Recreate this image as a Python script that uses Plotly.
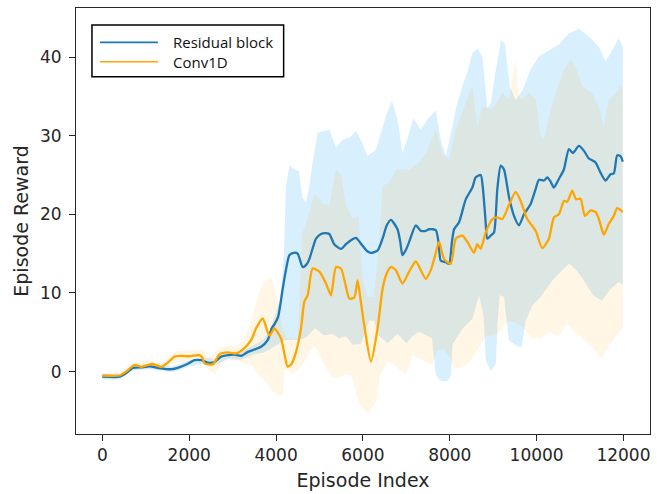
import plotly.graph_objects as go

# ---------------- data ----------------
res_x = [0, 400, 550, 700, 900, 1100, 1300, 1600, 1800, 1970, 2120, 2280, 2420, 2580, 2735, 2900,
         3040, 3195, 3350, 3500, 3655, 3807, 3900, 3962, 4050, 4152, 4230, 4306, 4400, 4497, 4612,
         4700, 4766, 4850, 4920, 5035, 5130, 5226, 5340, 5495, 5610, 5725, 5840, 5992, 6100, 6185,
         6338, 6452, 6550, 6644, 6797, 6860, 6911, 7000, 7065, 7218, 7333, 7448, 7525, 7678, 7740,
         7793, 7908, 7985, 8050, 8100, 8214, 8368, 8520, 8598, 8713, 8760, 8820, 8865, 8943, 9019,
         9095, 9173, 9249, 9364, 9479, 9594, 9709, 9862, 9977, 10053, 10168, 10245, 10320, 10398,
         10513, 10628, 10743, 10835, 10973, 11088, 11203, 11357, 11472, 11587, 11702, 11778, 11855,
         11932, 11985]
res_y = [-0.65, -0.65, -0.2, 0.45, 0.55, 0.65, 0.45, 0.3, 0.6, 1.0, 1.45, 1.45, 1.15, 1.2, 1.9, 2.1,
         2.15, 2.0, 2.5, 2.8, 3.15, 4.0, 5.5, 6.0, 7.0, 10.5, 13.0, 14.8, 15.1, 15.0, 13.3,
         13.6, 14.3, 15.8, 16.9, 17.5, 17.6, 17.5, 16.2, 15.6, 16.2, 16.7, 17.0, 16.0, 15.3, 15.1,
         15.4, 16.9, 18.6, 19.3, 18.1, 16.5, 14.8, 15.6, 16.5, 18.6, 17.9, 17.9, 18.1, 18.0, 16.5,
         14.1, 13.9, 13.7, 16.5, 18.1, 19.0, 21.9, 23.4, 24.7, 25.0, 23.5, 19.5, 16.9, 17.3, 17.7,
         23.2, 26.2, 25.7, 22.2, 19.8, 18.6, 20.0, 21.3, 23.2, 24.4, 24.3, 24.7, 24.2, 23.4,
         24.5, 25.7, 28.3, 27.8, 28.7, 28.1, 27.1, 26.6, 25.3, 24.3, 25.1, 25.2, 27.5,
         27.4, 26.7]

conv_x = [0, 400, 550, 743, 897, 1020, 1164, 1356, 1500, 1662, 1816, 2007, 2237, 2300, 2352, 2543,
          2697, 2888, 3081, 3233, 3426, 3540, 3692, 3846, 3961, 4115, 4200, 4267, 4360, 4460, 4575,
          4651, 4727, 4842, 4996, 5150, 5265, 5380, 5495, 5600, 5686, 5800, 5877, 5950, 6030, 6185,
          6338, 6452, 6550, 6644, 6759, 6911, 7065, 7218, 7448, 7563, 7640, 7754, 7869, 8023, 8138,
          8290, 8405, 8559, 8635, 8713, 8828, 8980, 9095, 9210, 9364, 9518, 9633, 9785, 9977, 10130,
          10283, 10398, 10513, 10628, 10705, 10820, 10912, 11012, 11111, 11242, 11357, 11434, 11548,
          11663, 11778, 11855, 11985]
conv_y = [-0.5, -0.5, 0.0, 0.84, 0.6, 0.8, 0.96, 0.6, 1.1, 1.9, 2.0, 1.95, 2.1, 1.8, 1.05, 0.92,
          2.19, 2.44, 2.3, 2.8, 4.0, 5.5, 6.75, 4.56, 5.48, 4.2, 2.0, 0.63, 1.0, 2.5, 5.5,
          8.9, 9.7, 13.1, 12.7, 11.2, 9.7, 13.3, 13.1, 11.0, 9.3, 9.4, 11.6, 9.0, 5.9, 1.27,
          5.5, 10.5, 12.5, 13.3, 12.9, 11.2, 12.7, 14.0, 11.8, 12.9, 14.3, 16.5, 14.3, 13.7, 16.9,
          17.3, 16.5, 15.1, 16.2, 15.6, 17.7, 19.4, 19.6, 19.4, 21.2, 22.85, 21.7, 19.4, 17.9, 15.7,
          16.9, 19.6, 20.0, 21.7, 21.6, 23.0, 21.9, 22.0, 19.8, 20.5, 20.3, 19.4, 17.4,
          18.8, 19.8, 20.8, 20.3]

# Residual block band (upper / lower edges)
res_hi_x = [0, 400, 700, 1100, 1600, 2000, 2300, 2600, 2900, 3200, 3500, 3700, 3850, 4000, 4100,
            4180, 4230, 4306, 4420, 4520, 4612, 4690, 4780, 4842, 4958, 5100, 5226, 5380, 5540,
            5700, 5846, 5990, 6100, 6300, 6530, 6667, 6797, 6911, 7020, 7160, 7333, 7486, 7678,
            7793, 7908, 8060, 8150, 8290, 8400, 8520, 8635, 8750, 8865, 8950, 9050, 9180, 9270,
            9380, 9518, 9670, 9862, 10053, 10250, 10513, 10743, 10973, 11203, 11433, 11587, 11740,
            11893, 11985]
res_hi_y = [-0.3, -0.3, 0.8, 0.95, 0.65, 1.4, 1.8, 1.6, 2.5, 2.5, 3.4, 4.0, 5.2, 7.5, 9.5,
            15.0, 23.6, 26.2, 25.7, 25.5, 22.0, 21.5, 24.0, 26.6, 30.4, 30.6, 30.8, 28.5, 29.5,
            29.8, 30.6, 29.0, 27.4, 28.2, 32.5, 34.4, 32.1, 27.8, 29.5, 32.2, 30.8, 32.1, 33.2,
            29.5, 27.4, 31.2, 33.7, 36.3, 38.0, 40.5, 41.1, 40.1, 33.5, 34.2, 38.0, 42.2, 41.7,
            36.3, 34.5, 35.7, 38.4, 40.1, 40.7, 41.6, 43.0, 43.6, 42.6, 41.3, 39.4, 40.9,
            42.4, 41.3]
res_lo_x = [0, 400, 700, 1100, 1600, 2000, 2300, 2600, 2900, 3200, 3500, 3700, 3850, 4000, 4200,
            4540, 4700, 4900, 5100, 5300, 5450, 5610, 5760, 5950, 6050, 6150, 6250, 6380, 6570,
            6800, 7000, 7140, 7300, 7590, 7680, 7800, 7950, 8030, 8060, 8300, 8520, 8674, 8780,
            8830, 8943, 9060, 9100, 9150, 9250, 9360, 9500, 9650, 9750, 9900, 10100, 10350, 10550,
            10750, 10900, 11100, 11300, 11500, 11700, 11900, 11985]
res_lo_y = [-1.0, -1.0, 0.1, 0.3, -0.1, 0.6, 1.0, 0.8, 1.6, 1.5, 2.2, 2.4, 2.8, 3.3, 4.0,
            4.0, 4.4, 5.5, 4.6, 4.8, 4.2, 4.5, 3.4, 3.5, 5.0, 6.5, 6.5, 4.5, 3.6,
            4.8, 3.6, 4.5, 5.1, 4.2, -0.5, -1.2, -1.2, -0.5, 3.4, 5.5, 6.7, 9.7, 7.0,
            1.5, 0.0, 1.0, 6.0, 9.7, 9.5, 4.0, 3.4, 3.0, 6.5, 8.4, 9.5, 11.5, 12.7,
            13.7, 13.0, 11.5, 9.7, 9.0, 10.5, 11.4, 11.0]

# Conv1D band (upper / lower edges)
conv_hi_x = [0, 400, 700, 1100, 1356, 1700, 2000, 2300, 2450, 2700, 2900, 3100, 3250, 3400, 3550,
             3700, 3900, 4050, 4150, 4250, 4500, 4550, 4600, 4700, 4800, 4900, 5065, 5226, 5380,
             5495, 5610, 5763, 5900, 5990, 6100, 6250, 6350, 6450, 6600, 6770, 7070, 7296, 7448,
             7678, 7831, 7985, 8138, 8368, 8520, 8635, 8750, 8980, 9210, 9364, 9470, 9518, 9570,
             9633, 9824, 9977, 10091, 10168, 10283, 10436, 10628, 10781, 10896, 11049, 11279,
             11433, 11548, 11663, 11817, 11932, 11985]
conv_hi_y = [-0.2, -0.2, 1.2, 1.4, 1.0, 2.6, 2.7, 2.8, 1.8, 3.0, 3.3, 3.3, 4.0, 6.0, 9.0,
             11.5, 11.8, 9.0, 5.5, 4.2, 4.2, 10.0, 17.5, 19.0, 21.0, 22.6, 21.4, 21.1, 25.7,
             25.0, 21.1, 19.4, 19.8, 12.0, 9.5, 9.5, 15.0, 23.6, 24.0, 25.7, 25.7, 26.6, 27.8,
             30.8, 27.8, 27.0, 30.8, 34.2, 36.3, 31.2, 33.7, 33.3, 35.5, 34.5, 38.5, 39.7, 36.0,
             34.5, 35.5, 34.6, 30.0, 29.5, 32.5, 35.4, 38.4, 39.7, 38.8, 36.3, 35.4,
             33.7, 31.2, 34.6, 35.4, 36.3, 35.9]
conv_lo_x = [0, 400, 700, 1100, 1356, 1700, 2000, 2300, 2450, 2600, 2800, 3100, 3300, 3460, 3650,
             3800, 3920, 4050, 4150, 4200, 4400, 4600, 4880, 5000, 5150, 5300, 5450, 5600, 5750,
             5920, 6110, 6200, 6300, 6380, 6570, 6800, 6990, 7140, 7350, 7600, 7700, 7850, 8000,
             8100, 8300, 8520, 8700, 8850, 9000, 9150, 9300, 9500, 9700, 9900, 10100, 10300, 10500,
             10700, 10900, 11100, 11300, 11500, 11700, 11900, 11985]
conv_lo_y = [-0.8, -0.8, 0.4, 0.4, 0.2, 1.2, 1.2, 1.3, 0.2, -0.3, 1.5, 1.4, 1.0, 0.7, -0.8,
             -1.5, -2.5, -3.0, -3.0, 0.4, -0.4, 0.8, 3.4, 2.1, 0.5, -0.8, -0.8, -0.3, -0.6,
             -4.3, -5.3, -4.8, -3.8, -0.8, 1.4, 0.5, -0.4, 2.1, 1.5, 0.8, 2.6, 3.0, 1.7,
             0.4, 0.6, 1.7, 3.4, 4.6, 4.6, 5.0, 6.3, 6.3, 5.5, 4.2, 4.2, 5.0, 4.5,
             6.0, 5.0, 4.0, 3.0, 1.7, 3.5, 5.1, 5.5]

series_names = ["Residual block", "Conv1D"]
x_ticks = [0, 2000, 4000, 6000, 8000, 10000, 12000]
y_ticks = [0, 10, 20, 30, 40]

# ---------------- styles ----------------
BLUE = "#1f77b4"
ORANGE = "#ffa500"
BLUE_FILL = "rgba(135,206,250,0.32)"
ORANGE_FILL = "rgba(255,165,0,0.10)"
AX = "#262626"

fig = go.Figure()

def band(xh, yh, xl, yl, color):
    return go.Scatter(x=list(xh) + list(xl)[::-1], y=list(yh) + list(yl)[::-1],
                      fill="toself", fillcolor=color, line=dict(width=0),
                      mode="lines", hoverinfo="skip", showlegend=False)

fig.add_trace(band(res_hi_x, res_hi_y, res_lo_x, res_lo_y, BLUE_FILL))
fig.add_trace(band(conv_hi_x, conv_hi_y, conv_lo_x, conv_lo_y, ORANGE_FILL))
fig.add_trace(go.Scatter(x=res_x, y=res_y, mode="lines", name=series_names[0],
                         line=dict(color=BLUE, width=2.3, shape="spline", smoothing=0.6)))
fig.add_trace(go.Scatter(x=conv_x, y=conv_y, mode="lines", name=series_names[1],
                         line=dict(color=ORANGE, width=2.3, shape="spline", smoothing=0.6)))

W, H = 657, 494
L, R, T, B = 76, 651, 8, 436

def px(x):
    return (x - L) / (R - L)

def py(y):
    return (B - y) / (B - T)

axis_font = dict(family="DejaVu Sans", size=17, color=AX)
fig.update_layout(
    width=W, height=H,
    margin=dict(l=L, r=W - R, t=T, b=H - B),
    paper_bgcolor="white", plot_bgcolor="white",
    showlegend=False,
    xaxis=dict(range=[-607, 12611], tickvals=x_ticks, ticktext=[str(v) for v in x_ticks],
               ticks="outside", ticklen=6, tickwidth=1, tickcolor=AX,
               showline=True, linecolor=AX, linewidth=1, mirror=True,
               showgrid=False, zeroline=False, tickfont=axis_font,
               title=dict(text="Episode Index", font=dict(family="DejaVu Sans", size=19, color=AX),
                          standoff=9)),
    yaxis=dict(range=[-7.94, 46.24], tickvals=y_ticks, ticktext=[str(v) for v in y_ticks],
               ticks="outside", ticklen=6, tickwidth=1, tickcolor=AX,
               showline=True, linecolor=AX, linewidth=1, mirror=True,
               showgrid=False, zeroline=False, tickfont=axis_font, ticklabelstandoff=4,
               title=dict(text="Episode Reward", font=dict(family="DejaVu Sans", size=19, color=AX),
                          standoff=6)),
)

# manual legend (box, line samples, labels)
fig.add_shape(type="rect", xref="paper", yref="paper",
              x0=px(92), x1=px(284), y0=py(77), y1=py(25),
              line=dict(color="black", width=1.5), fillcolor="white", layer="above")
for row_y, col, name in [(42.5, BLUE, series_names[0]), (62, ORANGE, series_names[1])]:
    fig.add_shape(type="line", xref="paper", yref="paper",
                  x0=px(100), x1=px(158), y0=py(row_y), y1=py(row_y),
                  line=dict(color=col, width=1.6), layer="above")
    fig.add_annotation(xref="paper", yref="paper", x=px(171), y=py(row_y),
                       xanchor="left", yanchor="middle", text=name, showarrow=False,
                       font=dict(family="Open Sans", size=15, color="#111"))

fig.write_html("out.html")
